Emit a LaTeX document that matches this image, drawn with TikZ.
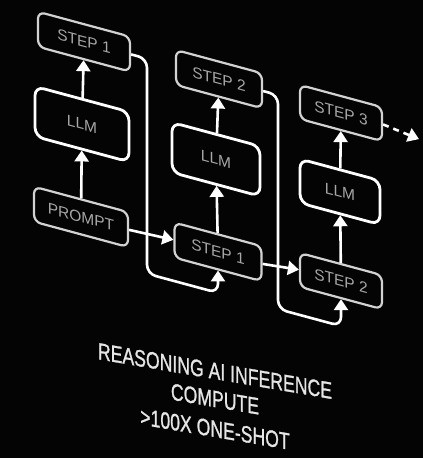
\documentclass[tikz,border=0pt]{standalone}
\usepackage{fontspec}
\setmainfont{Liberation Sans}
\newfontfamily\captionfont[FakeBold=1.2]{Liberation Sans}
\usetikzlibrary{arrows.meta,calc}
\definecolor{boxline}{HTML}{D2D2D2}
\definecolor{labelgrey}{HTML}{A8A8A8}
\definecolor{captiongrey}{HTML}{E6E6E6}
\definecolor{bg}{HTML}{040404}
\begin{document}
\begin{tikzpicture}[x=1pt,y=-1pt,
  stepbox/.style={draw=boxline, line width=2.2pt, fill=bg, rounded corners=7pt,
    minimum height=35pt, text=labelgrey, font=\fontsize{15.5}{15.5}\selectfont,
    transform shape, inner sep=0pt},
  llmbox/.style={draw=white, line width=2.8pt, fill=bg, rounded corners=9pt,
    minimum height=50pt, text=labelgrey, font=\fontsize{15.5}{15.5}\selectfont,
    transform shape, inner sep=0pt},
  arr/.style={draw=white, line width=2.6pt, -{Triangle[width=14pt,length=11pt]}},
  captiontext/.style={text=captiongrey, font=\captionfont\fontsize{23.5}{23.5}\selectfont, transform shape, inner sep=0pt}]
\useasboundingbox (0,0) rectangle (423,458);
\fill[bg] (0,0) rectangle (423,458);
\begin{scope}[yslant=-0.27]
  % column 1
  \node[stepbox, minimum width=92pt] (s1a) at (84,19) {STEP 1};
  \node[llmbox, minimum width=94pt] (llm1) at (82,102) {LLM};
  \node[stepbox, minimum width=94pt] (prompt) at (81,195) {PROMPT};
  % column 2
  \node[stepbox, minimum width=86pt] (s2a) at (219,20) {STEP 2};
  \node[llmbox, minimum width=88pt] (llm2) at (216,101) {LLM};
  \node[stepbox, minimum width=87pt] (s1b) at (218,193) {STEP 1};
  % column 3
  \node[stepbox, minimum width=82pt, minimum height=34pt] (s3c) at (341,21) {STEP 3};
  \node[llmbox, minimum width=80pt, minimum height=44pt] (llm3) at (340,100) {LLM};
  \node[stepbox, minimum width=82pt, minimum height=34pt] (s2c) at (341,189) {STEP 2};
  % vertical arrows
  \draw[arr] (prompt) -- (llm1);
  \draw[arr] (llm1) -- (s1a);
  \draw[arr] (s1b) -- (llm2);
  \draw[arr] (llm2) -- (s2a);
  \draw[arr] (s2c) -- (llm3);
  \draw[arr] (llm3) -- (s3c);
  % horizontal arrows
  \draw[arr] (prompt.east) -- (s1b.west);
  \draw[arr] (s1b.east) -- (s2c.west);
  % loops
  \coordinate (loop1) at (147,234);
  \coordinate (loop2) at (278,234);
  \draw[arr, rounded corners=9pt] (s1a.east) -| (loop1) -| (s1b.south);
  \draw[arr, rounded corners=9pt] (s2a.east) -| (loop2) -| (s2c.south);
  % dashed continuation
  \coordinate (cont) at (419,26);
  \draw[arr, dash pattern=on 6pt off 5pt] (s3c.east) -- (cont);
\end{scope}
\begin{scope}[shift={(215,399)}, yslant=-0.17, xscale=0.75]
  \node[captiontext] (cap1) at (0,-28) {REASONING AI INFERENCE};
  \node[captiontext] (cap2) at (0,0) {COMPUTE};
  \node[captiontext] (cap3) at (0,30) {>100X ONE-SHOT};
\end{scope}
\end{tikzpicture}
\end{document}
